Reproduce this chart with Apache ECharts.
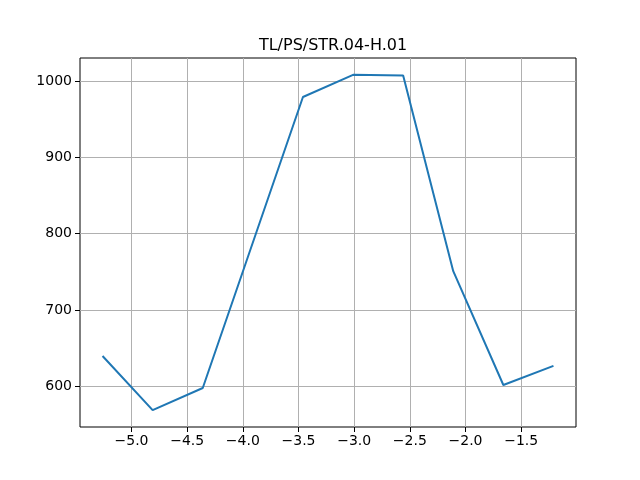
<!DOCTYPE html>
<html><head><meta charset="utf-8">
<script src="https://cdn.jsdelivr.net/npm/echarts@6/dist/echarts.min.js"></script>
<style>html,body{margin:0;padding:0;background:#fff}#c{width:640px;height:480px}</style>
</head><body><div id="c"></div>
<script>
const titleText = "TL/PS/STR.04-H.01";
const xValues = [-5.26, -4.81, -4.36, -3.46, -3.01, -2.56, -2.11, -1.66, -1.21];
const yValues = [640, 569, 598, 979, 1008, 1007, 751, 602, 627];
const xTicks = [-5.0, -4.5, -4.0, -3.5, -3.0, -2.5, -2.0, -1.5];
const yTicks = [600, 700, 800, 900, 1000];

const fmtX = v => (v < 0 ? "\u2212" : "") + Math.abs(v).toFixed(1);
const fmtY = v => String(Math.round(v));
const chart = echarts.init(document.getElementById('c'), null, {renderer: 'canvas'});
const font = "DejaVu Sans";
chart.setOption({
  animation: false,
  title: {text: titleText, left: 328, top: 33, textAlign: 'center',
    textStyle: {fontFamily: font, fontSize: 16, fontWeight: 'normal', color: '#000'}},
  grid: {left: 80, right: 64, top: 58, bottom: 53, show: true, borderColor: '#000', borderWidth: 1, backgroundColor: 'transparent'},
  xAxis: {type: 'value', min: -5.4625, max: -1.0075,
    axisLine: {show: false},
    axisTick: {show: true, length: 5, inside: false, customValues: xTicks, lineStyle: {color: '#000', width: 1}},
    axisLabel: {customValues: xTicks, formatter: fmtX, fontFamily: font, fontSize: 14, color: '#000', margin: 7},
    splitLine: {show: true, lineStyle: {color: '#b0b0b0', width: 1}}},
  yAxis: {type: 'value', min: 547, max: 1030,
    axisLine: {show: false},
    axisTick: {show: true, length: 5, inside: false, customValues: yTicks, lineStyle: {color: '#000', width: 1}},
    axisLabel: {customValues: yTicks, formatter: fmtY, fontFamily: font, fontSize: 14, color: '#000', margin: 8},
    splitLine: {show: true, lineStyle: {color: '#b0b0b0', width: 1}}},
  series: [{type: 'line', data: xValues.map((x, i) => [x, yValues[i]]),
    showSymbol: false, symbol: 'none', lineStyle: {color: '#1f77b4', width: 2}, itemStyle: {color: '#1f77b4'}}]
});
</script></body></html>
